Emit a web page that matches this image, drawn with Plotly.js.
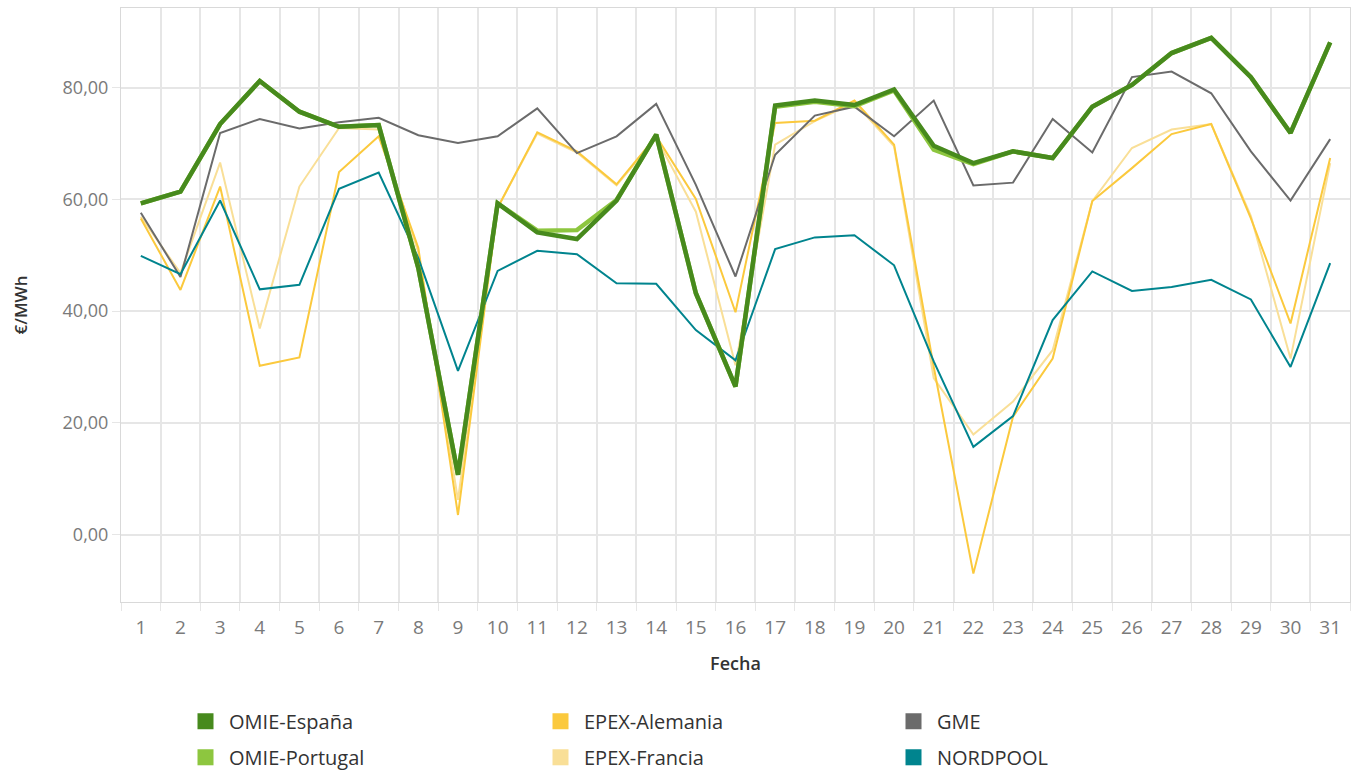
<!DOCTYPE html>
<html>
<head>
<meta charset="utf-8">
<script src="https://cdn.plot.ly/plotly-3.0.1.min.js"></script>
<style>
html,body{margin:0;padding:0;background:#fff;}
#chart{width:1358px;height:770px;}
</style>
</head>
<body>
<div id="chart"></div>
<script>
const days = [1,2,3,4,5,6,7,8,9,10,11,12,13,14,15,16,17,18,19,20,21,22,23,24,25,26,27,28,29,30,31];
const omieEspana = [59.3,61.4,73.5,81.2,75.7,73.0,73.3,47.7,10.7,59.3,54.1,52.9,59.8,71.6,43.2,26.5,76.8,77.7,76.9,79.7,69.6,66.5,68.6,67.4,76.6,80.5,86.2,88.9,81.9,71.9,88.1];
const omiePortugal = [59.3,61.4,73.5,81.2,75.7,73.0,73.3,47.7,10.7,59.3,54.4,54.5,59.9,71.6,43.2,26.5,76.6,77.5,76.7,79.5,68.9,66.3,68.6,67.4,76.6,80.5,86.2,88.9,81.9,71.9,88.1];
const epexAlemania = [56.6,43.8,62.3,30.2,31.7,64.9,71.3,51.3,3.5,58.5,72.0,68.6,62.7,71.3,60.1,39.8,73.7,74.1,77.7,69.8,30.0,-7.0,21.1,31.5,59.7,65.6,71.7,73.5,56.6,37.8,67.4];
const epexFrancia = [56.9,46.8,66.6,36.9,62.3,72.8,72.5,50.5,6.2,58.5,71.8,68.4,62.5,71.0,57.8,30.3,69.8,74.0,77.3,69.5,28.0,17.9,23.8,33.0,59.7,69.2,72.5,73.5,57.0,31.5,66.5];
const gme = [57.6,46.1,71.9,74.4,72.7,73.8,74.6,71.5,70.1,71.3,76.3,68.3,71.3,77.1,62.6,46.2,68.0,75.0,76.6,71.3,77.7,62.5,63.0,74.4,68.4,81.9,82.9,79.0,68.6,59.8,70.8];
const nordpool = [49.9,46.6,59.8,43.9,44.7,61.9,64.8,49.5,29.3,47.2,50.8,50.2,45.0,44.9,36.6,31.2,51.1,53.2,53.6,48.2,31.0,15.7,21.2,38.4,47.1,43.6,44.3,45.6,42.1,30.0,48.6];
const yTicks = [0,20,40,60,80];

const colors = {
  'OMIE-España':'#478A1D',
  'OMIE-Portugal':'#8DC63F',
  'EPEX-Alemania':'#FBC93D',
  'EPEX-Francia':'#F9DF97',
  'GME':'#6B6B6B',
  'NORDPOOL':'#00848E'
};
const values = {
  'OMIE-España':omieEspana,
  'OMIE-Portugal':omiePortugal,
  'EPEX-Alemania':epexAlemania,
  'EPEX-Francia':epexFrancia,
  'GME':gme,
  'NORDPOOL':nordpool
};
const widths = {'OMIE-España':4.5,'OMIE-Portugal':4.5,'EPEX-Alemania':2,'EPEX-Francia':2,'GME':2,'NORDPOOL':2};
// drawing order (last on top)
const drawOrder = ['EPEX-Francia','EPEX-Alemania','GME','NORDPOOL','OMIE-Portugal','OMIE-España'];
// legend columns
const legendCols = [['OMIE-España','OMIE-Portugal'],['EPEX-Alemania','EPEX-Francia'],['GME','NORDPOOL']];
const legendIds = ['legend','legend2','legend3'];

const data = [];
drawOrder.forEach(n => {
  data.push({
    type:'scatter', mode:'lines', name:n, x:days, y:values[n],
    line:{color:colors[n], width:widths[n]},
    showlegend:false,
    hovertemplate:'%{y:.2f}<extra>'+n+'</extra>'
  });
});
legendCols.forEach((col,ci) => {
  col.forEach((n,ri) => {
    data.push({
      type:'scatter', mode:'markers', name:n, x:[null], y:[null],
      marker:{symbol:'square', size:16, color:colors[n]},
      showlegend:true, legend:legendIds[ci], legendgroup:'g'+ci+'_'+ri,
      legendrank:ri+1, hoverinfo:'skip'
    });
  });
});

function legendBox(xpx){
  return {
    orientation:'v', x:(xpx-121)/1229, xanchor:'left', y:-0.168, yanchor:'top',
    font:{size:20, color:'#333', family:'"Open Sans", "Noto Sans", sans-serif'},
    itemwidth:37, tracegroupgap:7, traceorder:'grouped', bgcolor:'rgba(0,0,0,0)'
  };
}

const layout = {
  width:1358, height:770,
  margin:{l:121, r:8, t:8, b:168, autoexpand:false},
  paper_bgcolor:'#ffffff', plot_bgcolor:'#ffffff',
  separators:',.',
  font:{family:'"Open Sans", "Noto Sans", sans-serif', color:'#333'},
  showlegend:true,
  legend:legendBox(182),
  legend2:legendBox(537),
  legend3:legendBox(890),
  xaxis:{
    range:[0.5,31.5], tickmode:'array', tickvals:days, ticktext:days.map(String),
    showgrid:false, zeroline:false,
    ticks:'outside', ticklen:8, tickcolor:'rgba(0,0,0,0)',
    tickfont:{size:19, color:'#7a7a7a'},
    showline:true, linecolor:'#d9d9d9', linewidth:1, mirror:true,
    minor:{tick0:0.5, dtick:1, showgrid:true, gridcolor:'#e6e6e6', gridwidth:1.5, ticks:'outside', ticklen:8, tickcolor:'#e6e6e6'},
    title:{text:'Fecha', font:{size:18, color:'#333', weight:600}, standoff:18}
  },
  yaxis:{
    range:[-12.08,94.27], tickmode:'array', tickvals:yTicks, tickformat:'.2f',
    showgrid:true, gridcolor:'#e6e6e6', gridwidth:1.5, zeroline:false,
    ticks:'outside', ticklen:8, tickcolor:'#e6e6e6',
    tickfont:{size:18, color:'#7a7a7a'},
    showline:true, linecolor:'#d9d9d9', linewidth:1, mirror:true,
    title:{text:'€/MWh', font:{size:17, color:'#333', weight:600}, standoff:30}
  }
};

Plotly.newPlot('chart', data, layout, {displayModeBar:false, responsive:false});
</script>
</body>
</html>
